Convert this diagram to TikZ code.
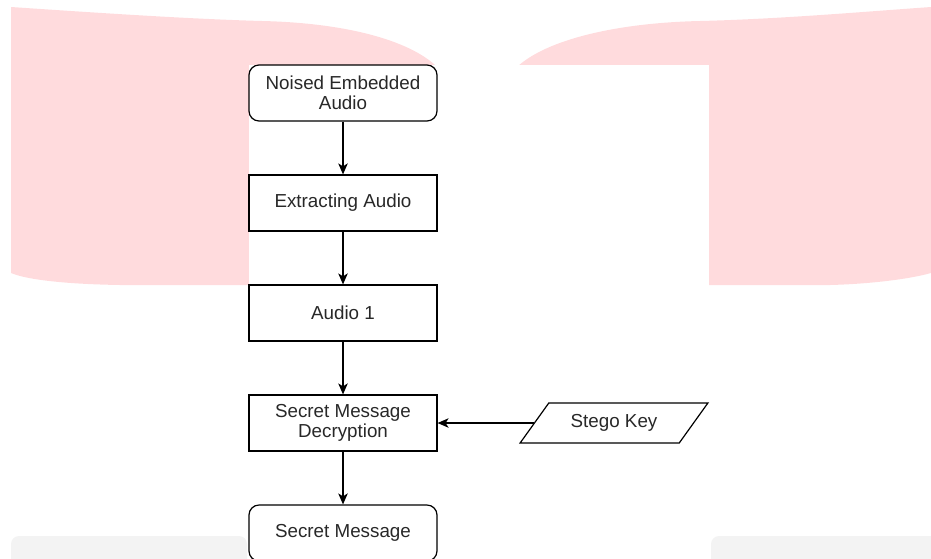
\documentclass[tikz,border=0pt]{standalone}
\usepackage{fontspec}
\setmainfont{Liberation Sans}
\usetikzlibrary{arrows.meta,shapes.geometric}
\definecolor{blush}{RGB}{255,219,221}
\definecolor{mist}{RGB}{243,243,243}
\definecolor{ink}{RGB}{40,40,40}
\begin{document}
\begin{tikzpicture}[x=1pt,y=-1pt,
  label text/.style={text=ink, font=\fontsize{18.8}{20.5}\selectfont, align=center},
  box/.style={label text, draw=black, line width=1.2pt, fill=white,
    minimum width=188pt, minimum height=56pt, inner sep=2pt},
  roundbox/.style={box, rounded corners=10pt},
  keybox/.style={label text, trapezium, trapezium left angle=46.5,
    trapezium right angle=133.5, trapezium stretches=true,
    draw=black, line width=1.2pt, fill=white,
    minimum width=188pt, minimum height=40pt, inner sep=2pt},
  arr/.style={-{Stealth[length=11pt,width=9.5pt,inset=3pt]}, line width=1.2pt}]

\useasboundingbox (0,0) rectangle (931,558);
\clip (0,0) rectangle (931,558);

% soft backdrop shapes
\fill[blush] (11,7) .. controls (100,13) and (190,19) .. (262,21)
  .. controls (350,23) and (415,42) .. (440,70) -- (440,285) -- (120,285)
  .. controls (60,284) and (25,279) .. (11,273) -- cycle;
\fill[blush] (514,70) .. controls (540,42) and (610,23) .. (700,21)
  .. controls (780,19) and (860,12) .. (931,7) -- (931,273)
  .. controls (910,279) and (870,284) .. (830,285) -- (514,285) -- cycle;
\fill[mist, rounded corners=8pt] (11,536) rectangle (247,580);
\fill[mist, rounded corners=8pt] (711,536) rectangle (950,580);
\fill[white] (249,65) rectangle (709,558);

% flow steps
\node[roundbox] (n1) at (343,93)  {Noised Embedded\\Audio};
\node[box]      (n2) at (343,203) {Extracting Audio};
\node[box]      (n3) at (343,313) {Audio 1};
\node[box]      (n4) at (343,423) {Secret Message\\Decryption};
\node[roundbox] (n5) at (343,533) {Secret Message};
\node[keybox]   (sk) at (614,423) {Stego Key};

% connectors
\draw[arr] (n1.south) -- (n2.north);
\draw[arr] (n2.south) -- (n3.north);
\draw[arr] (n3.south) -- (n4.north);
\draw[arr] (n4.south) -- (n5.north);
\draw[arr] (sk.left side) -- (n4.east);
\end{tikzpicture}
\end{document}
